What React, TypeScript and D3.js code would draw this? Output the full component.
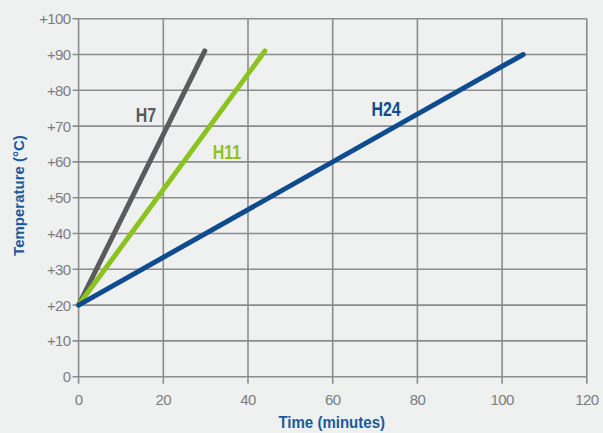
import React from "react";
import * as d3 from "d3";

const xTicks = [0, 20, 40, 60, 80, 100, 120];
const yTicks = [0, 10, 20, 30, 40, 50, 60, 70, 80, 90, 100];
const yTickLabels = ["0", "+10", "+20", "+30", "+40", "+50", "+60", "+70", "+80", "+90", "+100"];

const seriesNames = ["H7", "H11", "H24"];
const seriesColors = ["#5a5b5d", "#8cc320", "#0f4c8f"];
const seriesTimes = [
  [0, 29.8],
  [0, 44],
  [0, 105],
];
const seriesTemps = [
  [20, 91],
  [20, 91],
  [20, 90],
];
// label anchor (center, baseline) in data units
const labelPos = [
  [15.9, 71.2],
  [35.0, 60.8],
  [72.6, 72.8],
];

export default function App() {
  const W = 603, H = 433;
  const x = d3.scaleLinear().domain([0, 120]).range([78.6, 586.8]);
  const y = d3.scaleLinear().domain([0, 100]).range([376.7, 18.7]);
  const line = d3.line<[number, number]>().x(d => x(d[0])).y(d => y(d[1]));
  const grid = "#8c8c8c";
  const tickColor = "#7d7d7d";
  const font = "'Liberation Sans', Arial, sans-serif";
  return (
    <svg width={W} height={H} style={{ position: "absolute", left: 0, top: 0 }}>
      <rect x={0} y={0} width={W} height={H} fill="#eff1f1" />
      {yTicks.map(t => (
        <line key={"gy" + t} x1={x(0) - 6} x2={x(120)} y1={y(t)} y2={y(t)} stroke={grid} strokeWidth={1.6} />
      ))}
      {xTicks.map(t => (
        <line key={"gx" + t} x1={x(t)} x2={x(t)} y1={y(100)} y2={y(0) + 7} stroke={grid} strokeWidth={1.6} />
      ))}
      {yTicks.map((t, i) => (
        <text key={"yl" + t} x={x(0) - 8} y={y(t) + 5.5} textAnchor="end" fill={tickColor}
          fontFamily={font} fontSize={15} letterSpacing={-0.6}>{yTickLabels[i]}</text>
      ))}
      {xTicks.map(t => (
        <text key={"xl" + t} x={x(t)} y={405} textAnchor="middle" fill={tickColor}
          fontFamily={font} fontSize={15} letterSpacing={-0.6}>{t}</text>
      ))}
      {seriesNames.map((n, i) => (
        <path key={n} d={line(seriesTimes[i].map((t, j) => [t, seriesTemps[i][j]] as [number, number])) || ""}
          fill="none" stroke={seriesColors[i]} strokeWidth={5} strokeLinecap="round" />
      ))}
      {seriesNames.map((n, i) => (
        <text key={"lab" + n} transform={`translate(${x(labelPos[i][0])},${y(labelPos[i][1])}) scale(0.76,1)`}
          textAnchor="middle" fill={seriesColors[i]} fontFamily={font} fontSize={21} fontWeight="bold">{n}</text>
      ))}
      <text transform="translate(331.7,428) scale(0.94,1)" textAnchor="middle" fill="#1a5a9c" fontFamily={font}
        fontSize={16} fontWeight="bold">Time (minutes)</text>
      <text transform="translate(23.5,195.5) rotate(-90)" textAnchor="middle" fill="#1a5a9c"
        fontFamily={font} fontSize={15} fontWeight="bold">Temperature (°C)</text>
    </svg>
  );
}
